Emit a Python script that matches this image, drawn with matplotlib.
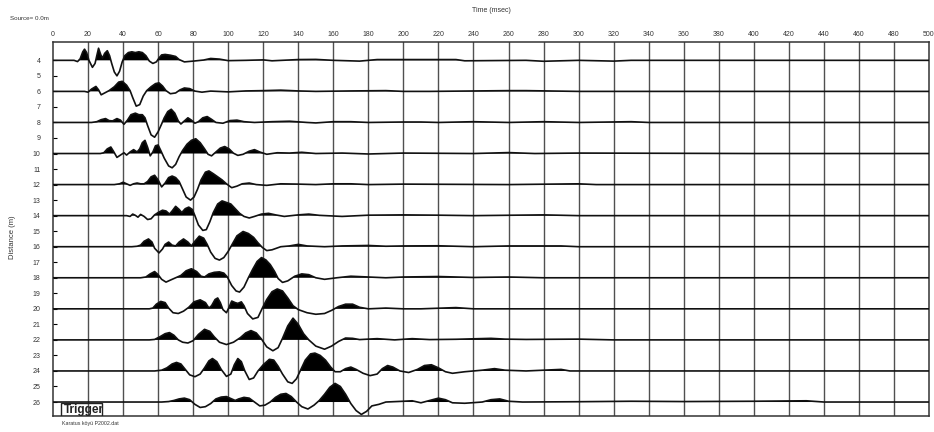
import numpy as np
import matplotlib
matplotlib.use("Agg")
import matplotlib.pyplot as plt
from matplotlib.patches import Rectangle

plt.rcParams['font.family'] = ['Liberation Sans', 'DejaVu Sans']

# trace offsets (m) and time ticks (ms)
distances = [4, 6, 8, 10, 12, 14, 16, 18, 20, 22, 24, 26]
time_ticks = list(range(0, 501, 20))
dist_ticks = list(range(4, 27))

# picked wiggle vertices, (time ms, amplitude m, positive = up)
trace_04 = [(0, 0), (12, 0), (14, -0.08), (15.5, 0.1), (17, 0.55), (18, 0.72), (19.2, 0.5), (20.5, 0),
            (22.5, -0.45), (24, -0.2), (25, 0.3), (26, 0.78), (27.3, 0.35), (28.3, 0.15), (29.5, 0.45),
            (31, 0.62), (32.3, 0.3), (33.5, -0.2), (35, -0.75), (36.5, -1.0), (38, -0.7), (39.5, -0.1),
            (41, 0.3), (43, 0.5), (45, 0.55), (47, 0.5), (49, 0.55), (51, 0.5), (53, 0.3), (55, -0.05),
            (57, -0.2), (59, -0.1), (60.5, 0.15), (62, 0.35), (64, 0.38), (67, 0.33), (70, 0.25),
            (72, 0.05), (75, -0.1), (80, -0.05), (86, 0.02), (90, 0.12), (95, 0.08), (100, -0.02),
            (110, 0), (120, 0.03), (125, -0.03), (140, 0.05), (150, 0.06), (160, 0), (175, -0.05),
            (185, 0.05), (230, 0.05), (235, -0.03), (270, 0), (280, -0.06), (300, 0), (320, -0.05),
            (330, 0), (500, 0)]
trace_06 = [(0, 0), (18, 0), (20, -0.05), (22, 0.15), (24.5, 0.32), (26, 0.1), (27.5, -0.22), (29.5, -0.1),
            (32, 0.05), (35, 0.3), (37.5, 0.6), (39.5, 0.65), (42, 0.4), (44, 0.05), (45.5, -0.4),
            (47.5, -0.95), (49.5, -0.85), (51.5, -0.3), (53.5, 0.05), (56, 0.3), (58.5, 0.5), (60.5, 0.55),
            (62.5, 0.35), (64.5, 0.05), (67, -0.15), (70, -0.1), (72.5, 0.1), (75, 0.22), (78, 0.18),
            (81, 0.02), (85, -0.05), (90, 0.02), (100, -0.03), (110, 0.03), (120, 0.05), (130, 0.08),
            (140, 0.03), (150, 0), (170, 0.03), (190, 0.05), (200, 0), (215, 0), (260, 0.05),
            (270, 0.05), (300, 0), (500, 0)]
trace_08 = [(0, 0), (22, 0), (25, 0.05), (27.5, 0.18), (30, 0.25), (32, 0.12), (34, 0.1), (36.5, 0.25),
            (38.5, 0.15), (40.5, -0.12), (42.5, 0.15), (44.5, 0.5), (47, 0.6), (49, 0.5), (51, 0.5),
            (52.5, 0.3), (54, -0.2), (56, -0.8), (58, -0.95), (60, -0.6), (62, -0.1), (63.5, 0.3),
            (65.5, 0.7), (67.5, 0.85), (69.5, 0.6), (71.5, 0.1), (73, -0.1), (75, 0.1), (77, 0.3),
            (79, 0.15), (81, -0.05), (83, 0.05), (85.5, 0.3), (88, 0.38), (90.5, 0.2), (93, 0),
            (97, -0.05), (101, 0.12), (105, 0.15), (109, 0.05), (115, 0), (125, 0.05), (135, 0.08),
            (145, 0), (150, -0.03), (160, 0.05), (170, 0.05), (180, 0), (200, 0.03), (210, 0.03),
            (220, 0), (240, 0.05), (260, 0), (280, 0.05), (300, 0), (330, 0.05), (340, 0), (500, 0)]
trace_10 = [(0, 0), (27, 0), (29, 0.05), (31, 0.3), (33, 0.42), (34.5, 0.15), (36.5, -0.25), (38.5, -0.1),
            (40.5, 0.05), (42, -0.1), (44, 0.1), (46, 0.25), (48, 0.1), (49.5, 0.3), (51, 0.7),
            (52.5, 0.85), (54, 0.4), (55.5, -0.15), (57, 0.1), (58.5, 0.5), (60, 0.55), (61.5, 0.2),
            (63.5, -0.3), (66, -0.8), (68, -0.92), (70, -0.7), (72, -0.2), (74, 0.2), (76.5, 0.6),
            (79, 0.85), (81.5, 0.95), (84, 0.7), (86.5, 0.3), (88.5, -0.05), (90.5, -0.15), (93, 0.1),
            (95.5, 0.35), (98, 0.45), (100.5, 0.3), (103, 0.02), (105.5, -0.12), (108.5, -0.05),
            (112, 0.15), (115, 0.25), (118, 0.1), (122, -0.05), (128, 0.05), (135, 0.03), (142, 0.08),
            (150, 0), (165, 0.03), (180, -0.03), (200, 0.03), (240, 0), (260, 0.06), (275, 0),
            (300, 0.03), (400, 0), (500, 0)]
trace_12 = [(0, 0), (35, 0), (38, 0.05), (40, 0.15), (42, 0.05), (44, -0.05), (46, 0.05), (48, 0.1),
            (50, 0.05), (52, 0.05), (54, 0.2), (56, 0.5), (58, 0.6), (60, 0.3), (62, -0.15), (64, 0.1),
            (66, 0.45), (68, 0.55), (70, 0.45), (72, 0.2), (74, -0.3), (76, -0.8), (78.5, -1.0),
            (80.5, -0.8), (82.5, -0.3), (84.5, 0.3), (87, 0.8), (89, 0.88), (91.5, 0.7), (94, 0.5),
            (96.5, 0.3), (99, 0.05), (102, -0.2), (105, -0.1), (108, 0.05), (112, 0.1), (116, 0),
            (122, -0.05), (130, 0.05), (140, 0.03), (150, 0), (160, 0.05), (170, 0.05), (180, 0),
            (200, 0.03), (260, 0), (300, 0.05), (310, 0), (500, 0)]
trace_14 = [(0, 0), (42, 0), (44, -0.05), (45.5, 0.1), (47, 0.02), (48.5, -0.1), (50, 0.08), (52, -0.05),
            (54, -0.25), (56, -0.2), (58, 0.05), (60, 0.2), (62.5, 0.35), (64.5, 0.3), (66.5, 0.1),
            (68, 0.3), (70, 0.6), (72, 0.4), (73.5, 0.2), (75.5, 0.45), (77.5, 0.55), (79.5, 0.4),
            (81, 0.0), (83, -0.6), (85.5, -0.95), (87.5, -0.9), (89.5, -0.4), (91.5, 0.2), (94, 0.75),
            (96.5, 0.95), (99, 0.85), (101.5, 0.75), (104, 0.45), (106.5, 0.15), (109, -0.05),
            (112, -0.15), (115, -0.05), (119, 0.1), (123, 0.15), (127, 0.05), (132, -0.05), (140, 0.05),
            (146, 0.1), (152, 0.02), (165, -0.05), (180, 0.03), (200, 0.05), (220, 0.03), (240, 0),
            (280, 0.05), (300, 0), (500, 0)]
trace_16 = [(0, 0), (45, 0), (48, 0.03), (50, 0.1), (52, 0.35), (54.5, 0.5), (56.5, 0.3), (58, -0.1),
            (60.5, -0.4), (62.5, -0.15), (64, 0.15), (66, 0.3), (68, 0.1), (70, 0.05), (72, 0.3),
            (74.5, 0.5), (77, 0.3), (79, 0.05), (81, 0.35), (83.5, 0.68), (86, 0.55), (88, 0.15),
            (90, -0.35), (92.5, -0.75), (95, -0.86), (97.5, -0.7), (100, -0.3), (102.5, 0.2), (105, 0.7),
            (108.5, 0.98), (111.5, 0.85), (114.5, 0.6), (117, 0.25), (119.5, -0.05), (122, -0.25),
            (125, -0.2), (130, 0), (135, 0.05), (140, 0.15), (145, 0.05), (155, 0), (165, 0.05),
            (180, 0.08), (190, 0.03), (200, 0.05), (220, 0.06), (240, 0), (260, 0.05), (290, 0.05),
            (300, 0), (500, 0)]
trace_18 = [(0, 0), (50, 0), (53, 0.05), (55.5, 0.25), (58, 0.4), (60, 0.2), (62, -0.1), (64.5, -0.28),
            (67, -0.15), (70, 0), (73, 0.15), (76, 0.45), (79, 0.58), (82, 0.4), (84.5, 0.1), (86.5, 0.05),
            (89, 0.25), (92, 0.35), (95, 0.38), (97.5, 0.3), (99.5, 0.05), (102, -0.5), (104.5, -0.85),
            (106.5, -0.92), (109, -0.6), (111.5, 0.0), (114, 0.55), (116.5, 1.05), (119, 1.3),
            (121.5, 1.15), (124, 0.85), (126.5, 0.4), (128.5, -0.05), (131, -0.3), (134, -0.2),
            (138, 0.1), (142, 0.25), (146, 0.2), (150, 0.0), (155, -0.1), (162, 0), (170, 0.1),
            (180, 0.05), (190, 0), (200, 0.05), (220, 0.08), (240, 0.02), (260, 0.05), (280, 0), (500, 0)]
trace_20 = [(0, 0), (55, 0), (57, 0.05), (59, 0.3), (61.5, 0.48), (64, 0.4), (66, 0.05), (68.5, -0.25),
            (71.5, -0.3), (74.5, -0.15), (77.5, 0.1), (80.5, 0.45), (84, 0.58), (87, 0.4), (89, 0.05),
            (90.5, 0.2), (92.5, 0.6), (94, 0.7), (95.5, 0.4), (97, -0.05), (99, -0.25), (100.5, 0.1),
            (102, 0.5), (104, 0.4), (105.5, 0.35), (107.5, 0.45), (109, 0.2), (111, -0.3), (114, -0.65),
            (117, -0.55), (119.5, 0.05), (122, 0.6), (125, 1.1), (128, 1.28), (131, 1.15), (134, 0.7),
            (137, 0.2), (140, -0.05), (145, -0.25), (150, -0.35), (155, -0.3), (159, -0.1), (163, 0.15),
            (167, 0.3), (171, 0.3), (175, 0.1), (180, 0.0), (190, 0.05), (200, 0), (210, 0), (230, 0.08),
            (240, 0), (500, 0)]
trace_22 = [(0, 0), (55, 0), (58, 0.03), (61, 0.2), (64, 0.4), (66.5, 0.47), (69, 0.3), (71.5, 0.0),
            (74, -0.15), (77, -0.2), (80, -0.05), (83, 0.35), (86.5, 0.68), (89.5, 0.55), (92, 0.2),
            (95, -0.15), (99, -0.3), (103, -0.15), (107, 0.15), (110, 0.45), (113, 0.6), (116, 0.45),
            (119, 0.05), (122, -0.45), (125.5, -0.7), (128.5, -0.5), (131, 0.1), (134, 0.9), (137, 1.4),
            (140, 1.0), (143, 0.4), (146, 0.0), (150, -0.4), (155, -0.6), (159, -0.4), (163, -0.1),
            (167, 0.12), (171, 0.1), (175, 0.02), (185, 0.08), (195, 0), (205, 0.08), (215, 0.02),
            (230, 0.04), (250, 0.1), (258, 0.05), (270, 0.03), (300, 0.05), (320, 0), (500, 0)]
trace_24 = [(0, 0), (58, 0), (62, 0.05), (65, 0.2), (68, 0.45), (70.5, 0.55), (73, 0.45), (75.5, 0.1),
            (78, -0.25), (81, -0.37), (84, -0.2), (86.5, 0.2), (89, 0.65), (91, 0.8), (93.5, 0.6),
            (96, 0.1), (99, -0.35), (101.5, -0.2), (103.5, 0.4), (105.5, 0.8), (107.5, 0.6), (109.5, 0.0),
            (112, -0.55), (114.5, -0.45), (117, 0.0), (120, 0.4), (123.5, 0.75), (126, 0.7), (128.5, 0.3),
            (131, -0.2), (134, -0.7), (136.5, -0.8), (139, -0.5), (141.5, 0.1), (144, 0.7), (147, 1.1),
            (149.5, 1.15), (152.5, 1.0), (155.5, 0.7), (158.5, 0.25), (161, -0.05), (164, -0.05),
            (167, 0.15), (170, 0.25), (173, 0.1), (177, -0.15), (181, -0.3), (185, -0.2), (188, 0.15),
            (191, 0.35), (194, 0.25), (198, 0.0), (203, -0.1), (208, 0.1), (212, 0.35), (216, 0.4),
            (220, 0.2), (224, -0.05), (228, -0.15), (235, -0.05), (245, 0.05), (252, 0.15), (258, 0.05),
            (270, 0), (290, 0.1), (295, 0), (500, 0)]
trace_26 = [(0, 0), (62, 0), (66, 0.03), (69, 0.1), (72, 0.2), (75, 0.25), (78, 0.15), (81, -0.15),
            (84, -0.35), (87, -0.3), (90, -0.1), (93, 0.2), (96, 0.32), (99, 0.35), (102, 0.2), (104, 0.1),
            (106, 0.2), (109, 0.3), (112, 0.25), (115, 0.0), (118, -0.25), (121, -0.2), (124, 0.0),
            (127, 0.3), (130, 0.5), (133, 0.55), (136, 0.35), (139, 0.0), (142, -0.3), (145.5, -0.45),
            (149, -0.2), (152, 0.1), (155, 0.5), (158, 0.95), (161, 1.2), (164, 1.0), (167, 0.5),
            (170, -0.1), (173, -0.55), (176, -0.8), (179, -0.6), (182, -0.25), (186, -0.15), (190, 0.0),
            (200, 0.05), (205, 0.08), (210, -0.05), (215, 0.1), (220, 0.25), (224, 0.15), (228, -0.05),
            (235, -0.08), (245, 0), (250, 0.15), (255, 0.2), (260, 0.05), (268, 0), (300, 0.02),
            (330, 0.05), (360, 0.03), (400, 0.05), (430, 0.08), (440, 0), (500, 0)]

traces = [trace_04, trace_06, trace_08, trace_10, trace_12, trace_14,
          trace_16, trace_18, trace_20, trace_22, trace_24, trace_26]

fig = plt.figure(figsize=(9.34, 4.32), dpi=100)
ax = fig.add_axes([53/934, 16/432, 876/934, 374.3/432])

for d, tr in zip(distances, traces):
    t = np.array([p[0] for p in tr])
    a = np.array([p[1] for p in tr])
    y = d - a
    ax.fill_between(t, y, d, where=a > 0, interpolate=True, color='black', lw=0, zorder=3)
    ax.plot(t, y, color='#111111', lw=1.2, zorder=4)

ax.set_xlim(0, 500)
ax.set_ylim(26.9, 2.8)
for tt in time_ticks[1:-1]:
    ax.axvline(tt, color='#505050', lw=1.0, zorder=1)

ax.xaxis.tick_top()
ax.set_xticks(time_ticks)
ax.set_xticklabels([str(v) for v in time_ticks], fontsize=5, color='#333333')
ax.tick_params(axis='x', length=0, pad=3)
ax.set_yticks(dist_ticks)
ax.set_yticklabels([str(v) for v in dist_ticks], fontsize=5, color='#333333')
ax.tick_params(axis='y', direction='in', length=3, width=0.8, pad=9)
for s in ax.spines.values():
    s.set_color('#333333')
    s.set_linewidth(1.1)

# trigger box
ax.add_patch(Rectangle((4.6, 26.05), 23.5, 0.85, fill=False, ec='#222222', lw=1.0, zorder=5))
ax.text(6.0, 26.5, 'Trigger', fontsize=8.5, fontweight='bold', va='center', ha='left',
        color='#222222', zorder=6)

fig.text(10/934, 1 - 19/432, 'Source= 0.0m', fontsize=4.5, color='#333333', va='center')
fig.text(491/934, 1 - 10/432, 'Time (msec)', fontsize=5, color='#333333', ha='center', va='center')
fig.text(13/934, 1 - 237/432, 'Distance (m)', fontsize=5.5, color='#333333', rotation=90,
         ha='center', va='center')
fig.text(62/934, 1 - 424/432, 'Karatus köyü P2002.dat', fontsize=3.8, color='#333333', va='center')

fig.savefig('out.png', dpi=100)
